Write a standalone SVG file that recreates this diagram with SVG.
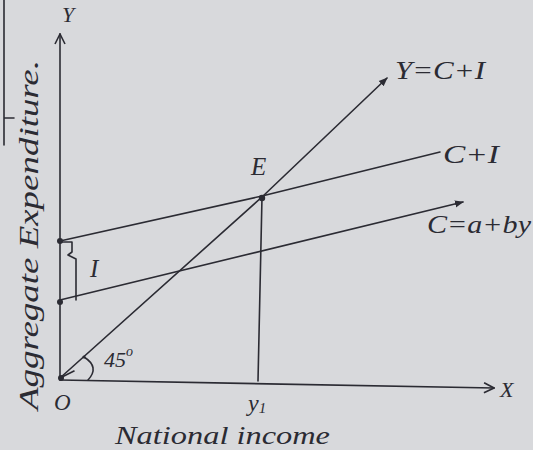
<svg xmlns="http://www.w3.org/2000/svg" width="533" height="450" viewBox="0 0 533 450">
<style>
.ln{stroke:#2b2b33;stroke-width:1.6;fill:none;stroke-linecap:round;stroke-linejoin:round}
.tx{font-family:"Liberation Serif",serif;font-style:italic;fill:#2b2b33}
.dot{fill:#2b2b33}
</style>
<defs>
<marker id="ah" viewBox="0 0 12 12" refX="11" refY="6" markerWidth="12" markerHeight="12" markerUnits="userSpaceOnUse" orient="auto">
<path d="M1,1 L11,6 L1,11" fill="none" stroke="#2b2b33" stroke-width="1.6"/>
</marker>
<marker id="fa" viewBox="0 0 10 10" refX="9" refY="5" markerWidth="9" markerHeight="9" markerUnits="userSpaceOnUse" orient="auto">
<path d="M0,1 L10,5 L0,9 z" fill="#2b2b33"/>
</marker>
</defs>
<rect width="533" height="450" fill="#d8d9dc"/>
<path class="ln" d="M4,0 L4,145 M4,118 L14,118" stroke-width="1.2"/>
<g id="connectors">
<path id="y-axis" class="ln" d="M60,380 L60,34" marker-end="url(#ah)"/>
<path id="x-axis" class="ln" d="M60,380 L494,388" marker-end="url(#ah)"/>
<path id="line45" class="ln" d="M60,378 L262,197 L387,78" marker-end="url(#fa)"/>
<path id="ci-line" class="ln" d="M60,241 L262,196 L440,152"/>
<path id="c-line" class="ln" d="M60,300 L463,202" marker-end="url(#fa)"/>
<path id="y1-drop" class="ln" d="M262,197 L258,381"/>
<path id="brace" class="ln" d="M62,242 L72,242 L72,252 L68,255 L76,259 L76,300"/>
<path id="arc45" class="ln" d="M84,357 Q100,367 88,380"/>
<path class="ln" d="M62,377 L74,371"/>
</g>
<g id="points">
<circle class="dot" cx="60" cy="241" r="3"/>
<circle class="dot" cx="60" cy="302" r="3"/>
<circle class="dot" cx="61" cy="378" r="3"/>
<circle class="dot" cx="262" cy="198" r="3.2"/>
<circle class="dot" cx="84" cy="357" r="1.6"/>
</g>
<g id="labels">
<text class="tx" x="62" y="22" font-size="22">Y</text>
<text class="tx" x="500" y="397" font-size="22">X</text>
<text class="tx" x="54" y="410" font-size="23">O</text>
<text class="tx" x="248" y="411" font-size="24">y<tspan font-size="15" dy="2">1</tspan></text>
<text class="tx" x="251" y="175" font-size="25">E</text>
<text class="tx" x="395" y="79" font-size="26" textLength="90" lengthAdjust="spacingAndGlyphs">Y=C+I</text>
<text class="tx" x="443" y="163" font-size="26" textLength="56" lengthAdjust="spacingAndGlyphs">C+I</text>
<text class="tx" x="427" y="233" font-size="26" textLength="104" lengthAdjust="spacingAndGlyphs">C=a+by</text>
<text class="tx" x="90" y="277" font-size="25">I</text>
<text class="tx" x="104" y="367" font-size="22">45<tspan font-size="14" dy="-11">o</tspan></text>
<text class="tx" x="115" y="444" font-size="26" textLength="215" lengthAdjust="spacingAndGlyphs">National income</text>
<text class="tx" transform="translate(38,410) rotate(-90)" font-size="28" textLength="350" lengthAdjust="spacingAndGlyphs">Aggregate Expenditure.</text>
</g>
</svg>
